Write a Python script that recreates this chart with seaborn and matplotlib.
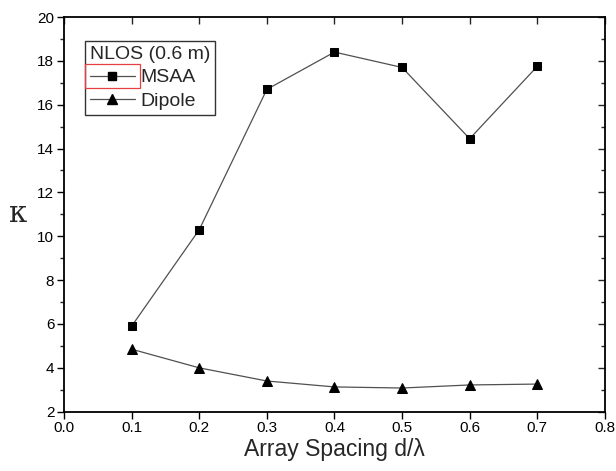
import matplotlib
matplotlib.use("Agg")
import matplotlib.pyplot as plt
from matplotlib.patches import Rectangle
from matplotlib.ticker import MultipleLocator, FormatStrFormatter
import seaborn as sns
import pandas as pd

spacing = [0.1, 0.2, 0.3, 0.4, 0.5, 0.6, 0.7]
msaa = [5.9, 10.3, 16.7, 18.4, 17.7, 14.45, 17.75]
dipole = [4.85, 4.0, 3.4, 3.13, 3.08, 3.22, 3.26]
series_names = ["MSAA", "Dipole"]
legend_title = "NLOS (0.6 m)"

sns.set_theme(style="white")
plt.rcParams["font.family"] = ["Liberation Sans", "DejaVu Sans"]

df = pd.DataFrame({
    "d": spacing * 2,
    "kappa": msaa + dipole,
    "antenna": [series_names[0]] * len(msaa) + [series_names[1]] * len(dipole),
})

fig = plt.figure(figsize=(6.16, 4.71), dpi=100)
ax = fig.add_axes([0.1039, 0.1259, 0.8781, 0.838])

line_color = "#505050"
sns.lineplot(
    data=df, x="d", y="kappa", hue="antenna", style="antenna",
    markers={"MSAA": "s", "Dipole": "^"}, dashes=False,
    palette={"MSAA": line_color, "Dipole": line_color},
    linewidth=0.9, ax=ax, legend=False,
)
for line in ax.lines:
    line.set_markerfacecolor("black")
    line.set_markeredgecolor("black")
    line.set_markersize(6.5 if line.get_marker() == "^" else 5.8)

ax.set_xlim(0.0, 0.8)
ax.set_ylim(2, 20)
ax.xaxis.set_major_locator(MultipleLocator(0.1))
ax.yaxis.set_major_locator(MultipleLocator(2))
ax.yaxis.set_minor_locator(MultipleLocator(1))
ax.xaxis.set_major_formatter(FormatStrFormatter("%.1f"))

for s in ax.spines.values():
    s.set_color("black")
    s.set_linewidth(1.3)

ax.tick_params(axis="both", which="major", direction="out", length=5, width=1,
               colors="black", labelsize=11, left=True, bottom=True, pad=2)
ax.tick_params(axis="y", which="minor", direction="out", length=3, width=1,
               left=True)
# inward ticks on the top and right edges
top = ax.secondary_xaxis("top")
top.xaxis.set_major_locator(MultipleLocator(0.1))
top.tick_params(direction="in", length=5, width=1, labeltop=False)
top.spines["top"].set_visible(False)
right = ax.secondary_yaxis("right")
right.yaxis.set_major_locator(MultipleLocator(2))
right.yaxis.set_minor_locator(MultipleLocator(1))
right.tick_params(which="major", direction="in", length=5, width=1, labelright=False)
right.tick_params(which="minor", direction="in", length=3, width=1)
right.spines["right"].set_visible(False)

ax.set_xlabel("Array Spacing d/λ", fontsize=16.5, labelpad=2)
ax.set_ylabel("κ", fontsize=21, rotation=0, labelpad=14, va="center",
              family=["DejaVu Serif", "DejaVu Sans"])

handles = [
    plt.Line2D([], [], color=line_color, lw=0.9, marker="s", ms=5.8,
               mfc="black", mec="black"),
    plt.Line2D([], [], color=line_color, lw=0.9, marker="^", ms=6.5,
               mfc="black", mec="black"),
]
leg = ax.legend(handles, series_names, title=legend_title, loc="upper left",
                bbox_to_anchor=(0.039, 0.939), borderaxespad=0, fontsize=14,
                title_fontsize=14, frameon=True, fancybox=False,
                handlelength=2.3, handletextpad=0.3, borderpad=0.25,
                labelspacing=0.3)
leg.get_frame().set_edgecolor("black")
leg.get_frame().set_linewidth(1.0)
leg._legend_box.align = "left"

# red selection box around the first legend handle
fig.canvas.draw()
bb = leg.legend_handles[0].get_window_extent()
inv = fig.transFigure.inverted()
(x0, y0), (x1, y1) = inv.transform([(bb.x0 - 1, bb.y0 - 8), (bb.x1 + 1, bb.y1 + 8)])
fig.add_artist(Rectangle((x0, y0), x1 - x0, y1 - y0, transform=fig.transFigure,
                         fill=False, edgecolor="#e84040", linewidth=0.9, zorder=10))

fig.savefig("out.png", dpi=100)
